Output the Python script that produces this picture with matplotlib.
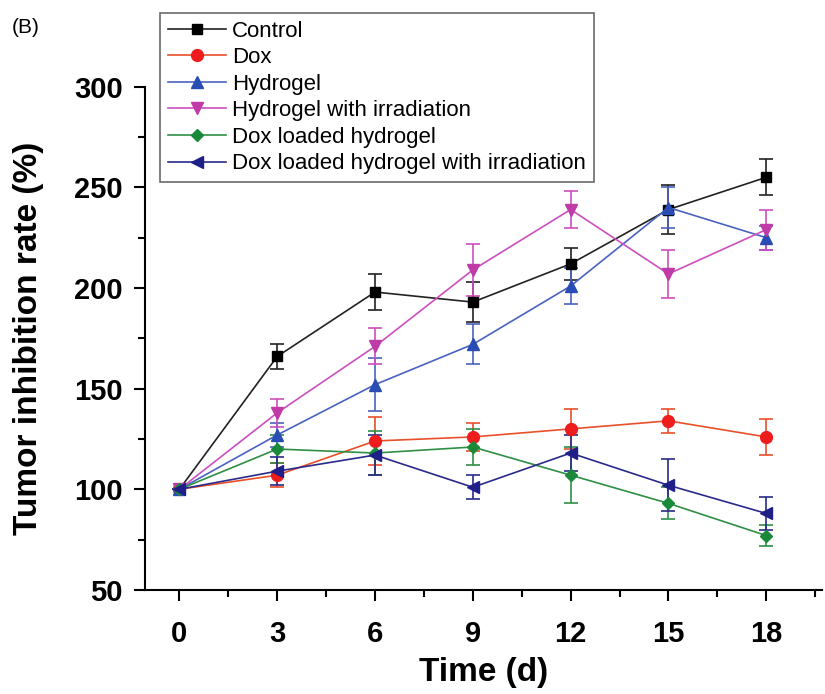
import matplotlib.pyplot as plt
from matplotlib.ticker import MultipleLocator

plt.rcParams['font.family'] = ['Liberation Sans', 'DejaVu Sans']

days = [0, 3, 6, 9, 12, 15, 18]

labels = ['Control', 'Dox', 'Hydrogel', 'Hydrogel with irradiation',
          'Dox loaded hydrogel', 'Dox loaded hydrogel with irradiation']

control = [100, 166, 198, 193, 212, 239, 255]
control_err = [0, 6, 9, 10, 8, 12, 9]
dox = [100, 107, 124, 126, 130, 134, 126]
dox_err = [0, 6, 12, 7, 10, 6, 9]
hydrogel = [100, 127, 152, 172, 201, 240, 225]
hydrogel_err = [0, 6, 13, 10, 9, 10, 6]
hydrogel_irr = [100, 138, 171, 209, 239, 207, 229]
hydrogel_irr_err = [0, 7, 9, 13, 9, 12, 10]
dox_gel = [100, 120, 118, 121, 107, 93, 77]
dox_gel_err = [0, 7, 11, 9, 14, 8, 5]
dox_gel_irr = [100, 109, 117, 101, 118, 102, 88]
dox_gel_irr_err = [0, 7, 10, 6, 9, 13, 8]

series = [control, dox, hydrogel, hydrogel_irr, dox_gel, dox_gel_irr]
errors = [control_err, dox_err, hydrogel_err, hydrogel_irr_err, dox_gel_err, dox_gel_irr_err]
markers = ['s', 'o', '^', 'v', 'D', '<']
line_colors = ['#222222', '#e8502a', '#4a62c0', '#cc4fbf', '#2f8f45', '#2a2a8a']
face_colors = ['#000000', '#ee1c1c', '#2a4db5', '#c03aa8', '#1a8a3a', '#1f1f8a']
msizes = [7.5, 8.5, 9, 9, 6.5, 9]

fig = plt.figure(figsize=(8.25, 6.94), dpi=100)
ax = fig.add_axes([0.176, 0.150, 0.820, 0.725])

for y, e, m, lc, fc, ms, lab in zip(series, errors, markers, line_colors, face_colors, msizes, labels):
    ax.errorbar(days, y, yerr=e, color=lc, ecolor=lc, elinewidth=1.2, capsize=5, capthick=1.2,
                linewidth=1.2, marker=m, markersize=ms, markerfacecolor=fc, markeredgecolor=fc,
                label=lab)

ax.set_xlim(-1.05, 19.7)
ax.set_ylim(50, 300)
ax.xaxis.set_major_locator(MultipleLocator(3))
ax.xaxis.set_minor_locator(MultipleLocator(1.5))
ax.yaxis.set_major_locator(MultipleLocator(50))
ax.yaxis.set_minor_locator(MultipleLocator(25))
ax.spines['top'].set_visible(False)
ax.spines['right'].set_visible(False)
ax.spines['left'].set_linewidth(1.5)
ax.spines['bottom'].set_linewidth(1.5)
ax.tick_params(which='major', direction='out', length=8, width=1.5, labelsize=21, pad=8)
ax.tick_params(axis='x', which='major', pad=14)
ax.tick_params(which='minor', direction='out', length=5, width=1.5)
for t in ax.get_xticklabels() + ax.get_yticklabels():
    t.set_fontweight('bold')

ax.set_xlabel('Time (d)', fontsize=24, fontweight='bold')
ax.set_ylabel('Tumor inhibition rate (%)', fontsize=24, fontweight='bold')
ax.xaxis.set_label_coords(0.5, -0.133)
ax.yaxis.set_label_coords(-0.150, 0.5)

# drop error bars from legend handles
handles, labs = ax.get_legend_handles_labels()
handles = [h[0] for h in handles]
leg = ax.legend(handles, labs, loc='upper left', bbox_to_anchor=(0.022, 1.147),
                borderaxespad=0, fontsize=16, frameon=True, fancybox=False, edgecolor='#444444',
                handlelength=2.6, handletextpad=0.3, labelspacing=0.25, borderpad=0.35)
leg.get_frame().set_linewidth(1.2)

fig.text(0.014, 0.952, '(B)', fontsize=15)

fig.savefig('out.png', dpi=100)
